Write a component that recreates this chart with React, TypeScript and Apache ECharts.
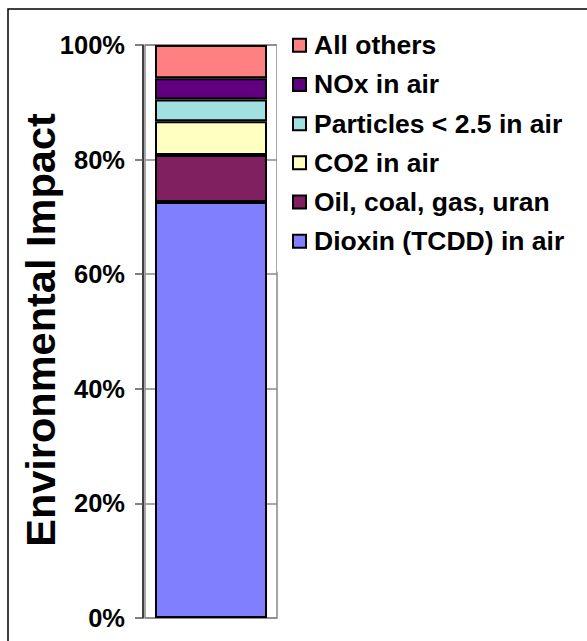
import React, { useEffect, useRef } from "react";
import * as echarts from "echarts";

const categories = ["Total"];
const seriesNames = [
  "Dioxin (TCDD) in air",
  "Oil, coal, gas, uran",
  "CO2 in air",
  "Particles < 2.5 in air",
  "NOx in air",
  "All others",
];
const dioxin = [72.6];
const oilCoal = [8.2];
const co2 = [5.9];
const particles = [3.8];
const nox = [3.7];
const allOthers = [5.8];
const seriesColors = ["#8080FF", "#802060", "#FFFFC0", "#A0E0E0", "#600080", "#FF8080"];
const yTicks = [0, 20, 40, 60, 80, 100];

const FONT = '"Liberation Sans", Arial, sans-serif';

export default function App() {
  const ref = useRef<HTMLDivElement>(null);
  useEffect(() => {
    document.body.style.margin = "0";
    if (!ref.current) return;
    const chart = echarts.init(ref.current, undefined, { renderer: "svg" });
    const values = [dioxin, oilCoal, co2, particles, nox, allOthers];
    const series = seriesNames.map((name, i) => ({
      name,
      type: "bar" as const,
      stack: "total",
      barWidth: 112,
      data: values[i],
      itemStyle: { color: seriesColors[i], borderColor: "#000", borderWidth: 2 },
    }));
    chart.setOption({
      animation: false,
      backgroundColor: "#fff",
      grid: {
        left: 145,
        right: 310,
        top: 45,
        bottom: 23,
        show: true,
        borderColor: "#888",
        borderWidth: 1.5,
        backgroundColor: "transparent",
      },
      xAxis: {
        type: "category",
        data: categories,
        axisLine: { show: false },
        axisTick: { show: false },
        axisLabel: { show: false },
      },
      yAxis: {
        type: "value",
        min: yTicks[0],
        max: yTicks[yTicks.length - 1],
        interval: 20,
        offset: 2,
        axisLine: { show: true, lineStyle: { color: "#000", width: 1.5 } },
        axisTick: { show: true, length: 8, lineStyle: { color: "#555", width: 1.5 } },
        axisLabel: {
          formatter: "{value}%",
          margin: 18,
          color: "#000",
          fontSize: 25.5,
          fontWeight: "bold",
          fontFamily: FONT,
        },
        splitLine: { show: true, lineStyle: { color: "#888", width: 1.5 } },
      },
      legend: {
        orient: "vertical",
        left: 277,
        top: 15.75,
        padding: [16, 8, 17, 15],
        backgroundColor: "#fff",
        itemWidth: 13,
        itemHeight: 13,
        itemGap: 12.2,
        icon: "rect",
        data: [...seriesNames].reverse(),
        textStyle: {
          color: "#000",
          fontSize: 26.5,
          lineHeight: 26.5,
          fontWeight: "bold",
          fontFamily: FONT,
          padding: [0, 0, 0, 3],
        },
      },
      graphic: [
        {
          type: "rect",
          shape: { x: 8, y: 9, width: 700, height: 700 },
          style: { fill: "none", stroke: "#000", lineWidth: 1.5 },
          silent: true,
          z: 100,
        },
        {
          type: "text",
          x: 40,
          y: 330,
          rotation: Math.PI / 2,
          style: {
            text: "Environmental Impact",
            fontSize: 41.5,
            fontWeight: "bold",
            fontFamily: FONT,
            fill: "#000",
            align: "center",
            verticalAlign: "middle",
          },
        },
      ],
      series,
    });
    return () => chart.dispose();
  }, []);
  return <div ref={ref} style={{ width: 587, height: 641 }} />;
}
